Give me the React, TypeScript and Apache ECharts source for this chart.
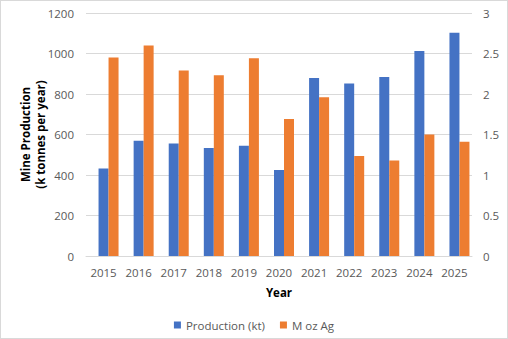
import React, { useEffect, useRef } from "react";
import * as echarts from "echarts";

const years = ["2015", "2016", "2017", "2018", "2019", "2020", "2021", "2022", "2023", "2024", "2025"];
const production = [432, 569, 555, 533, 545, 425, 879, 852, 884, 1012, 1103];
const silver = [2.45, 2.6, 2.29, 2.23, 2.44, 1.69, 1.96, 1.235, 1.18, 1.5, 1.41];
const leftTicks = { min: 0, max: 1200, interval: 200 };
const rightTicks = { min: 0, max: 3, interval: 0.5 };

const FONT = "Open Sans";
const GREY = "#595959";

export default function App() {
  const ref = useRef<HTMLDivElement>(null);
  useEffect(() => {
    document.body.style.margin = "0";
    const chart = echarts.init(ref.current!, null, { renderer: "svg" });
    chart.setOption({
      animation: false,
      textStyle: { fontFamily: FONT },
      grid: { left: 86, right: 36, top: 13, bottom: 83, containLabel: false },
      legend: {
        data: ["Production (kt)", "M oz Ag"],
        top: 314,
        left: "center",
        icon: "rect",
        itemWidth: 7,
        itemHeight: 7,
        itemGap: 15,
        itemStyle: { borderWidth: 0 },
        textStyle: { fontFamily: FONT, fontSize: 11.5, color: GREY },
      },
      xAxis: {
        type: "category",
        data: years,
        name: "Year",
        nameLocation: "middle",
        nameGap: 30,
        nameMoveOverlap: false,
        nameTextStyle: { fontFamily: FONT, fontSize: 11.5, fontWeight: "bold", color: "#000" },
        axisLine: { lineStyle: { color: "#d9d9d9" } },
        axisTick: { show: false },
        axisLabel: { margin: 10, fontFamily: FONT, fontSize: 11.5, color: GREY },
      },
      yAxis: [
        {
          type: "value",
          ...leftTicks,
          name: "Mine Production\n(k tonnes per year)",
          nameLocation: "middle",
          nameRotate: 90,
          nameGap: 38,
          nameMoveOverlap: false,
          nameTextStyle: { fontFamily: FONT, fontSize: 11.5, fontWeight: "bold", color: "#000", lineHeight: 15, align: "center" },
          axisLine: { show: false },
          axisTick: { show: false },
          axisLabel: { margin: 12, fontFamily: FONT, fontSize: 11.5, color: GREY, formatter: (v: number) => String(v) },
          splitLine: { lineStyle: { color: "#d9d9d9" } },
        },
        {
          type: "value",
          ...rightTicks,
          position: "right",
          axisLine: { show: false },
          axisTick: { show: false },
          axisLabel: { margin: 11, fontFamily: FONT, fontSize: 11.5, color: GREY, formatter: (v: number) => String(v) },
          splitLine: { show: false },
        },
      ],
      series: [
        {
          name: "_spacer",
          type: "bar",
          data: [],
          barWidth: 10,
          barGap: "0%",
          silent: true,
        },
        {
          name: "Production (kt)",
          type: "bar",
          data: production,
          yAxisIndex: 0,
          barWidth: 10,
          barGap: "0%",
          itemStyle: { color: "#4472C4" },
        },
        {
          name: "M oz Ag",
          type: "bar",
          data: silver,
          yAxisIndex: 1,
          barWidth: 10,
          barGap: "0%",
          itemStyle: { color: "#ED7D31" },
        },
      ],
    });
    return () => chart.dispose();
  }, []);
  return (
    <div
      style={{
        position: "absolute",
        left: 0,
        top: 0,
        width: 508,
        height: 339,
        boxSizing: "border-box",
        border: "1px solid #d9d9d9",
        background: "#fff",
      }}
    >
      <div ref={ref} style={{ position: "absolute", left: -1, top: -1, width: 508, height: 339 }} />
    </div>
  );
}
